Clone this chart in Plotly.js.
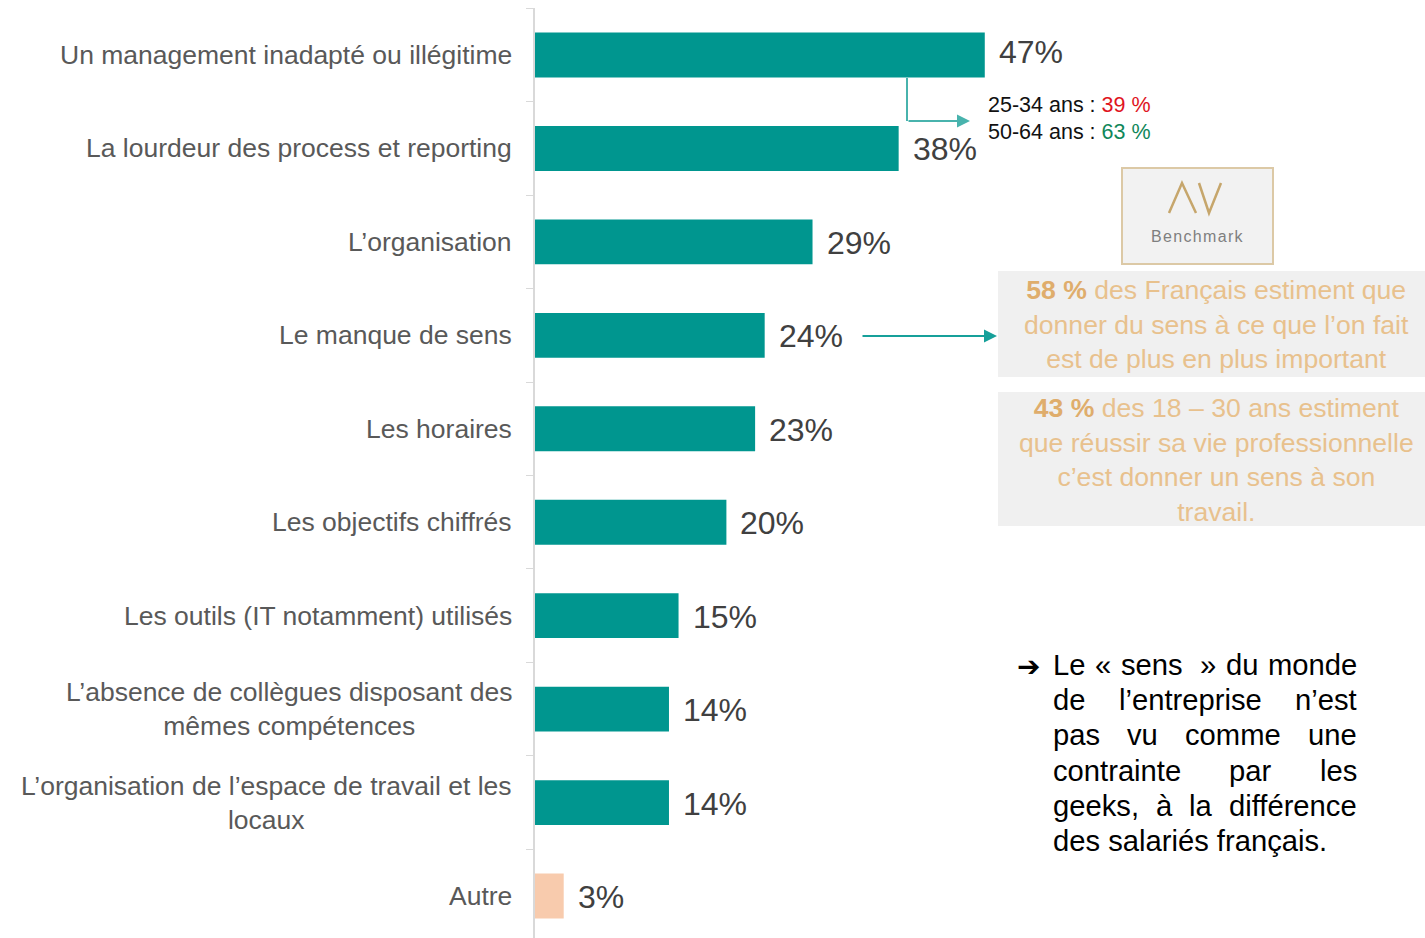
<!DOCTYPE html>
<html>
<head>
<meta charset="utf-8">
<script src="https://cdn.plot.ly/plotly-3.0.1.min.js"></script>
<style>html,body{margin:0;padding:0;background:#fff;}#chart{width:1425px;height:938px;}</style>
</head>
<body>
<div id="chart"></div>
<script>
// ---- data ----
const categories = [
  "Un management inadapté ou illégitime",
  "La lourdeur des process et reporting",
  "L’organisation",
  "Le manque de sens",
  "Les horaires",
  "Les objectifs chiffrés",
  "Les outils (IT notamment) utilisés",
  "L’absence de collègues disposant des<br>mêmes compétences",
  "L’organisation de l’espace de travail et les<br>locaux",
  "Autre"
];
const values = [47, 38, 29, 24, 23, 20, 15, 14, 14, 3];
const valueLabels = values.map(v => v + "%");
const ageGroups = ["25-34 ans", "50-64 ans"];
const ageValues = [39, 63];
const benchmarkStats = [58, 43];
const benchmarkTexts = [
  " des Français estiment que<br>donner du sens à ce que l’on fait<br>est de plus en plus important",
  " des 18 – 30 ans estiment<br>que réussir sa vie professionnelle<br>c’est donner un sens à son<br>travail."
];
const conclusionLines = [
  ["Le", "«", "sens", " »", "du", "monde"],
  ["de", "l’entreprise", "n’est"],
  ["pas", "vu", "comme", "une"],
  ["contrainte", "par", "les"],
  ["geeks,", "à", "la", "différence"],
  ["des salariés français."]
];

// ---- styling ----
const TEAL = "#00968f";
const PEACH = "#f8cbad";
const FONT = "Liberation Sans, Arial, sans-serif";
const W = 1425, H = 938, ML = 535, MT = 8;
const px = x => (x - ML) / (W - ML);
const py = y => (H - y) / (H - MT);

const barColors = values.map((v, i) => i === values.length - 1 ? PEACH : TEAL);

const trace = {
  type: "bar",
  orientation: "h",
  x: values,
  y: categories,
  marker: {color: barColors, line: {width: 0}},
  width: 0.48,
  hoverinfo: "skip"
};

const annotations = [];
const shapes = [];

// category labels (centered multi-line, right-anchored)
categories.forEach((c, i) => {
  annotations.push({
    xref: "paper", yref: "y", x: px(514), y: c, xanchor: "right", yanchor: "middle",
    text: c, showarrow: false, align: "center",
    font: {family: FONT, size: 26.5, color: "#595959"}
  });
  annotations.push({
    xref: "x", yref: "y", x: values[i], y: c, xanchor: "left", yanchor: "middle",
    xshift: 12, yshift: i === 0 ? 3 : -1,
    text: valueLabels[i], showarrow: false,
    font: {family: FONT, size: 32, color: "#404040"}
  });
});

// age breakdown
const ageColors = ["#e0141e", "#10875a"];
ageGroups.forEach((g, i) => {
  annotations.push({
    xref: "paper", yref: "paper", x: px(986), y: py(105 + i * 27), xanchor: "left", yanchor: "middle",
    text: g + " : <span style='color:" + ageColors[i] + "'>" + ageValues[i] + " %</span>",
    showarrow: false, font: {family: FONT, size: 21.5, color: "#111111"}
  });
});

// elbow arrow from first bar
shapes.push({type: "line", xref: "paper", yref: "paper", x0: px(907), x1: px(907), y0: py(78), y1: py(121),
  line: {color: "#48b3ad", width: 2}});
annotations.push({xref: "paper", yref: "paper", x: px(970), y: py(121), ax: -63, ay: 0,
  axref: "pixel", ayref: "pixel", showarrow: true, arrowhead: 2, arrowsize: 1.3, arrowwidth: 2,
  arrowcolor: "#48b3ad", text: ""});

// arrow from 24% bar
annotations.push({xref: "paper", yref: "paper", x: px(997), y: py(336), ax: -136, ay: 0,
  axref: "pixel", ayref: "pixel", showarrow: true, arrowhead: 2, arrowsize: 1.3, arrowwidth: 2,
  arrowcolor: "#16a09a", text: ""});

// Benchmark logo box
shapes.push({type: "rect", xref: "paper", yref: "paper", x0: px(1122), x1: px(1273), y0: py(264), y1: py(168),
  fillcolor: "#f2f2f2", line: {color: "#dcc9a6", width: 2}});
shapes.push({type: "path", xref: "paper", yref: "paper",
  path: `M ${px(1169)} ${py(213)} L ${px(1182)} ${py(183)} L ${px(1196)} ${py(213)}`,
  line: {color: "#c6a66c", width: 2.5}});
shapes.push({type: "path", xref: "paper", yref: "paper",
  path: `M ${px(1199)} ${py(183)} L ${px(1209)} ${py(213)} L ${px(1221)} ${py(183)}`,
  line: {color: "#c6a66c", width: 2.5}});
annotations.push({xref: "paper", yref: "paper", x: px(1197), y: py(237), xanchor: "center", yanchor: "middle",
  text: "B e n c h m a r k".replace(/ /g, "\u200a"), showarrow: false, font: {family: FONT, size: 16, color: "#7f7f7f"}});

// benchmark grey boxes
const boxes = [[271, 377, 324], [392, 526, 460]];
boxes.forEach((b, i) => {
  shapes.push({type: "rect", xref: "paper", yref: "paper", x0: px(998), x1: 1, y0: py(b[1]), y1: py(b[0]),
    fillcolor: "#f0f0f0", line: {width: 0}, layer: "below"});
  annotations.push({xref: "paper", yref: "paper", x: px(1216), y: py(b[2]), xanchor: "center", yanchor: "middle",
    align: "center", showarrow: false,
    text: "<b><span style='color:#dfad6c'>" + benchmarkStats[i] + " %</span></b>" + benchmarkTexts[i],
    font: {family: FONT, size: 26.6, color: "#e8c18d"}});
});

// justified conclusion paragraph
const canvas = document.createElement("canvas");
const ctx = canvas.getContext("2d");
const CFS = 29.2;
ctx.font = CFS + "px 'Liberation Sans'";
const LEFT = 1053, RIGHT = 1357;
annotations.push({xref: "paper", yref: "paper", x: px(1015), y: py(666), xanchor: "left", yanchor: "middle",
  text: "<b>➔</b>", showarrow: false, font: {family: "DejaVu Sans", size: 28, color: "#000"}});
conclusionLines.forEach((words, li) => {
  const yy = 665 + li * 35.2;
  const widths = words.map(w => ctx.measureText(w).width);
  const total = widths.reduce((a, b) => a + b, 0);
  const last = li === conclusionLines.length - 1;
  const gap = (!last && words.length > 1) ? (RIGHT - LEFT - total) / (words.length - 1) : 0;
  let xx = LEFT;
  words.forEach((w, wi) => {
    annotations.push({xref: "paper", yref: "paper", x: px(xx - 2), y: py(yy), xanchor: "left", yanchor: "middle",
      text: w, showarrow: false, font: {family: FONT, size: CFS, color: "#000"}});
    xx += widths[wi] + gap;
  });
});

const layout = {
  width: W, height: H,
  margin: {l: ML, r: 0, t: MT, b: 0, pad: 0},
  paper_bgcolor: "#ffffff", plot_bgcolor: "#ffffff",
  showlegend: false,
  bargap: 0.52,
  xaxis: {range: [0, 93], visible: false, fixedrange: true},
  yaxis: {
    type: "category", categoryorder: "array", categoryarray: categories,
    range: [9.449, -0.503],
    showline: true, linecolor: "#d9d9d9", linewidth: 2,
    ticks: "outside", tickson: "boundaries", ticklen: 7, tickcolor: "#d9d9d9", tickwidth: 1,
    showticklabels: false, showgrid: false, zeroline: false, fixedrange: true
  },
  shapes: shapes,
  annotations: annotations
};

Plotly.newPlot("chart", [trace], layout, {displayModeBar: false, staticPlot: true});
</script>
</body>
</html>
